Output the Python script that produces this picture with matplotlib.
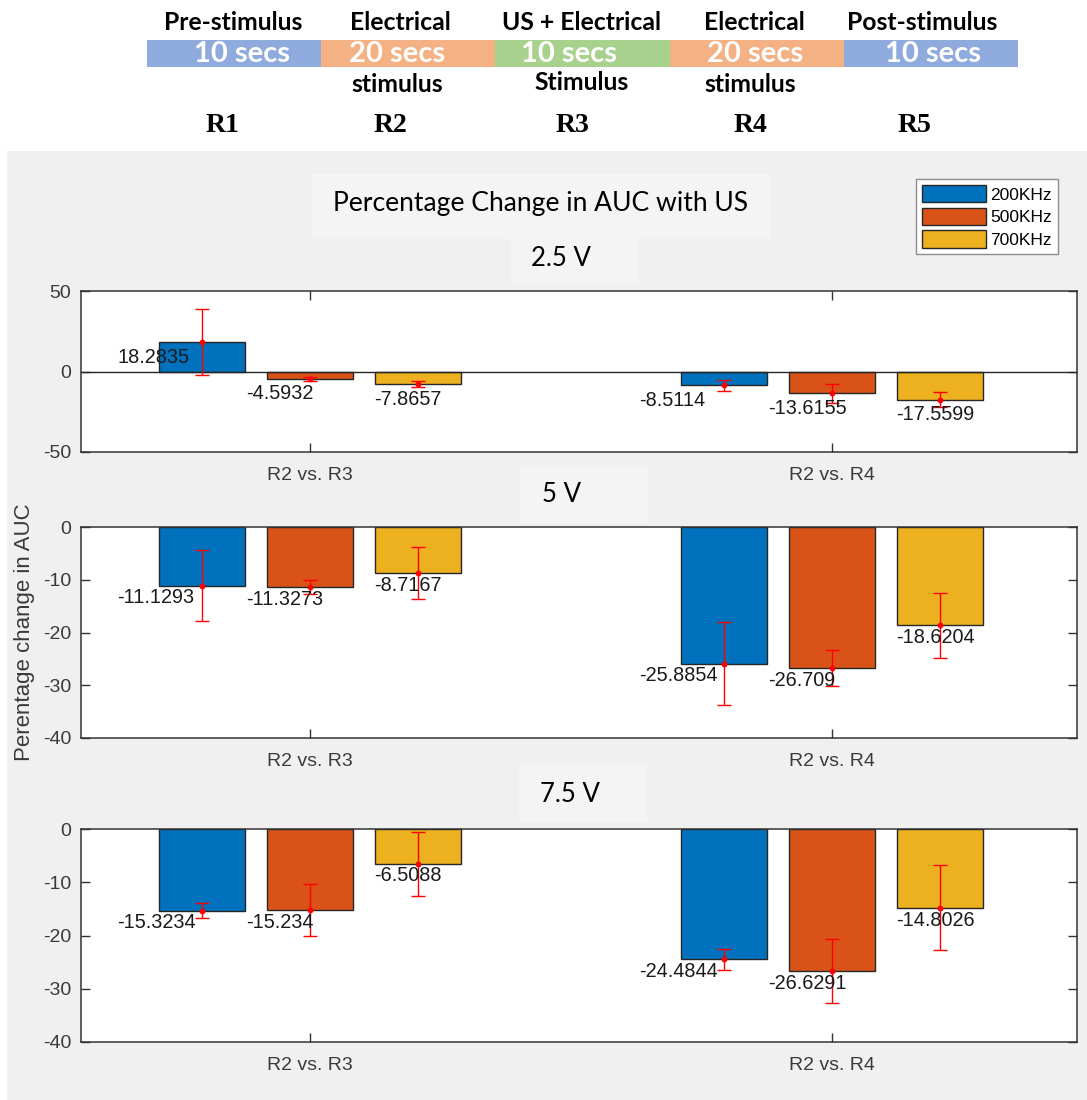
import numpy as np
import matplotlib
matplotlib.use("Agg")
import matplotlib.pyplot as plt
from matplotlib.patches import Rectangle, Patch
from matplotlib.transforms import offset_copy

# ---------------------------------------------------------------- data
comparisons = ["R2 vs. R3", "R2 vs. R4"]
frequencies = ["200KHz", "500KHz", "700KHz"]
voltages = ["2.5 V", "5 V", "7.5 V"]

# mean percentage change in AUC, rows = comparison, columns = frequency
change_2v5 = [[18.2835, -4.5932, -7.8657],
              [-8.5114, -13.6155, -17.5599]]
change_5v = [[-11.1293, -11.3273, -8.7167],
             [-25.8854, -26.709, -18.6204]]
change_7v5 = [[-15.3234, -15.234, -6.5088],
              [-24.4844, -26.6291, -14.8026]]

# error bar half-widths
err_2v5 = [[20.4, 1.35, 1.7],
           [3.3, 6.1, 4.8]]
err_5v = [[6.7, 1.3, 5.0],
          [7.9, 3.4, 6.2]]
err_7v5 = [[1.45, 4.85, 6.0],
           [1.95, 6.0, 8.0]]

ylims = [(-50, 50), (-40, 0), (-40, 0)]
yticks = [[-50, 0, 50], [-40, -30, -20, -10, 0], [-40, -30, -20, -10, 0]]

# stimulation protocol strip
phases = ["Pre-stimulus", "Electrical", "US + Electrical", "Electrical", "Post-stimulus"]
phase_sub = ["", "stimulus", "Stimulus", "stimulus", ""]
durations = ["10 secs", "20 secs", "10 secs", "20 secs", "10 secs"]
regions = ["R1", "R2", "R3", "R4", "R5"]

# ---------------------------------------------------------------- style
W, H, DPI = 1087, 1100, 100
BAR_COLORS = ["#0072BD", "#D95319", "#EDB120"]
PHASE_COLORS = ["#8FAADC", "#F4B183", "#A9D18E", "#F4B183", "#8FAADC"]
PANEL_BG = "#f0f0f0"
BOX_BG = "#f4f4f4"
AX_COLOR = "#333333"
SANS = ["Liberation Sans", "DejaVu Sans"]
HUMANIST = ["Lato", "DejaVu Sans"]

plt.rcParams["font.family"] = SANS
plt.rcParams["axes.unicode_minus"] = False

fig = plt.figure(figsize=(W / DPI, H / DPI), dpi=DPI, facecolor="white")

# pixel-space background layer
bg = fig.add_axes([0, 0, 1, 1], zorder=-10)
bg.set_xlim(0, W)
bg.set_ylim(H, 0)
bg.axis("off")
bg.add_patch(Rectangle((7, 151), W - 7, H - 151, color=PANEL_BG, lw=0))
for (x0, y0, x1, y1) in [(312, 174, 770, 239), (511, 239, 638, 283),
                         (520, 465, 648, 523), (519, 765, 647, 822)]:
    bg.add_patch(Rectangle((x0, y0), x1 - x0, y1 - y0, color=BOX_BG, lw=0))

# ---- protocol strip
seg_left, seg_w = 147, 174.2
phase_x = [233, 400, 582, 754, 922]
dur_x = [242, 397, 569, 755, 933]
sub_x = [234, 397, 582, 750, 931]
reg_x = [222, 390, 572, 750, 914]
for i in range(len(phases)):
    bg.add_patch(Rectangle((seg_left + i * seg_w, 40), seg_w, 27,
                           color=PHASE_COLORS[i], lw=0))
    bg.text(phase_x[i], 22, phases[i], ha="center", va="center",
            fontsize=17.8, fontweight="bold", family=HUMANIST, color="black")
    bg.text(dur_x[i], 54, durations[i], ha="center", va="center",
            fontsize=21, fontweight="bold", family=HUMANIST, color="white")
    if phase_sub[i]:
        bg.text(sub_x[i], 85 if i != 2 else 82, phase_sub[i], ha="center", va="center",
                fontsize=17.8, fontweight="bold", family=HUMANIST, color="black")
    bg.text(reg_x[i], 126, regions[i], ha="center", va="center",
            fontsize=20, fontweight="bold", family=["Liberation Serif", "DejaVu Serif"],
            color="black")

# ---- titles
bg.text(541, 204, "Percentage Change in AUC with US", ha="center", va="center",
        fontsize=19.1, family=HUMANIST, color="black")
for label, (x, y) in zip(voltages, [(561, 259), (561, 494), (570, 795)]):
    bg.text(x, y, label, ha="center", va="center", fontsize=18.5,
            family=HUMANIST, color="black")

# ---- bar panels
panel_px = [(291, 452), (527, 738), (829, 1042)]
ax_left, ax_right = 81, 1077
bar_offsets = [-0.207, 0.0, 0.207]
label_offsets = [-0.37, -0.122, 0.122]
label_drop = [-4.0, -2.0, -2.0]
bar_width = 0.165

changes = [np.array(change_2v5), np.array(change_5v), np.array(change_7v5)]
errors = [np.array(err_2v5), np.array(err_5v), np.array(err_7v5)]
groups = np.arange(1, len(comparisons) + 1)

for p, (top, bottom) in enumerate(panel_px):
    ax = fig.add_axes([ax_left / W, 1 - bottom / H,
                       (ax_right - ax_left) / W, (bottom - top) / H])
    ax.set_facecolor("white")
    vals, errs = changes[p], errors[p]
    label_tr = offset_copy(ax.transData, fig=fig, y=label_drop[p], units="points")
    for j in range(len(frequencies)):
        xs = groups + bar_offsets[j]
        ax.bar(xs, vals[:, j], width=bar_width, color=BAR_COLORS[j],
               edgecolor="#262626", linewidth=1.0, zorder=2)
        ax.errorbar(xs, vals[:, j], yerr=errs[:, j], fmt="o", ms=3.2,
                    color="red", ecolor="red", elinewidth=1.0,
                    capsize=5, capthick=1.0, zorder=4)
        for g, v in zip(groups, vals[:, j]):
            ax.text(g + label_offsets[j], v, str(v), ha="left", va="top",
                    fontsize=14.3, color="#1a1a1a", zorder=5, transform=label_tr)
    if p == 0:
        ax.axhline(0, color="#262626", lw=1.0, zorder=3)
    ax.set_xlim(0.561, 2.469)
    ax.set_ylim(*ylims[p])
    ax.set_yticks(yticks[p])
    ax.set_xticks(groups)
    ax.set_xticklabels(comparisons)
    ax.tick_params(direction="in", length=6.5, width=1.0, color=AX_COLOR,
                   labelcolor="#3a3a3a", labelsize=14, top=True, right=True)
    ax.tick_params(axis="x", pad=11)
    ax.tick_params(axis="y", pad=7)
    for s in ax.spines.values():
        s.set_color(AX_COLOR)
        s.set_linewidth(1.1)

fig.text(25 / W, 1 - 632 / H, "Perentage change in AUC", rotation=90,
         ha="center", va="center", fontsize=16, color="#3a3a3a")

handles = [Patch(facecolor=c, edgecolor="#262626", linewidth=1.0) for c in BAR_COLORS]
leg = fig.legend(handles, frequencies, loc="upper right",
                 bbox_to_anchor=(1058 / W, 1 - 179 / H), fontsize=12.5,
                 handlelength=3.7, handleheight=1.15, labelspacing=0.3,
                 handletextpad=0.25, borderpad=0.35, borderaxespad=0,
                 fancybox=False, framealpha=1, edgecolor="#8c8c8c")
leg.get_frame().set_linewidth(1.0)

fig.savefig("out.png", dpi=DPI, facecolor="white")
